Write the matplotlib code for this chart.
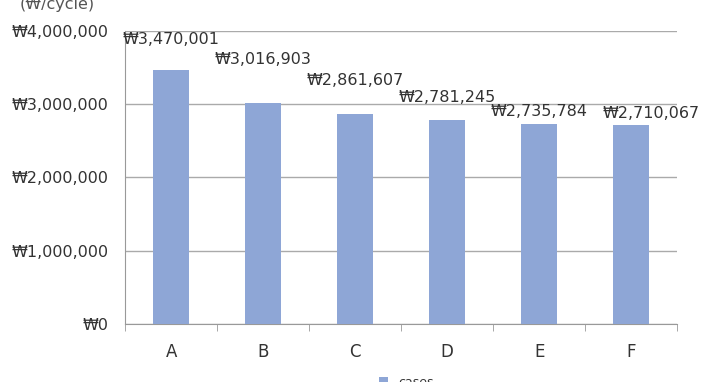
import matplotlib
matplotlib.use("Agg")
import matplotlib.pyplot as plt
from matplotlib.ticker import FuncFormatter, FixedLocator
import numpy as np

categories = ["A", "B", "C", "D", "E", "F"]
values = [3470001, 3016903, 2861607, 2781245, 2735784, 2710067]
series_name = "cases"
y_ticks = [0, 1000000, 2000000, 3000000, 4000000]
# label offsets from bar tops (points) - mimic manual placement in reference
label_dy = [21.5, 31, 24, 16.5, 8.5, 8.5]
label_dx = [0, 0, 0, 0, 0, 14]

plt.rcParams['font.family'] = ['DejaVu Sans']

fig = plt.figure(figsize=(7.07, 3.82), dpi=100)
ax = fig.add_axes([0.177, 0.152, 0.781, 0.767])

x = np.arange(len(categories))
bar_color = "#8EA6D6"
bars = ax.bar(x, values, width=0.39, color=bar_color, zorder=3, label=series_name)

ax.set_xlim(-0.5, len(categories) - 0.5)
ax.set_ylim(0, 4000000)
ax.yaxis.set_major_locator(FixedLocator(y_ticks))
ax.yaxis.set_major_formatter(FuncFormatter(lambda v, p: "₩{:,.0f}".format(v)))
ax.grid(axis="y", color="#AAAAAA", linewidth=1.0, zorder=0)

ax.set_xticks(x)
ax.set_xticklabels(categories)
ax.set_xticks(np.arange(-0.5, len(categories), 1.0), minor=True)

for s in ["top", "right"]:
    ax.spines[s].set_visible(False)
ax.spines["left"].set_color("#999999")
ax.spines["bottom"].set_color("#999999")

ax.tick_params(axis="x", which="major", length=0, labelsize=12, colors="#333333", pad=14)
ax.tick_params(axis="x", which="minor", length=5, color="#999999", direction="out")
ax.tick_params(axis="y", which="major", length=0, labelsize=11.5, colors="#333333", pad=12)

for xi, v, dy, dx in zip(x, values, label_dy, label_dx):
    ax.annotate("₩{:,.0f}".format(v), xy=(xi, v), xytext=(dx, dy),
                textcoords="offset points", ha="center", va="center",
                fontsize=11.5, color="#333333", zorder=4, annotation_clip=False)

fig.text(0.028, 0.988, "(₩/cycle)", fontsize=11.5, color="#555555", ha="left", va="center")

leg = fig.legend(handles=[bars], labels=[series_name], loc="center",
                 bbox_to_anchor=(0.575, -0.0), frameon=False, fontsize=9,
                 handlelength=0.7, handleheight=0.7, labelcolor="#333333")

fig.savefig("out.png", dpi=100, facecolor="white")
